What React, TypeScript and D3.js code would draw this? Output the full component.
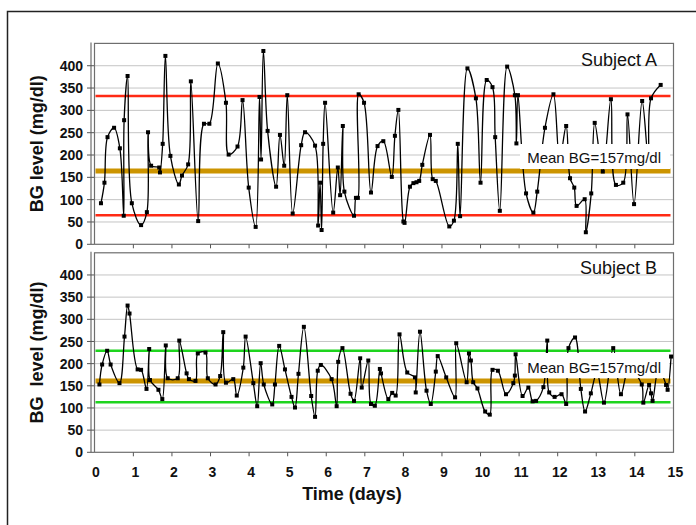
import React, { useEffect, useRef } from "react";
import * as d3 from "d3";

// Subject A readings (time in days, BG in mg/dl)
const daysA = [0.16, 0.25, 0.33, 0.5, 0.65, 0.75, 0.76, 0.85, 0.96, 1.2, 1.35, 1.38, 1.46, 1.67, 1.69, 1.76, 1.83, 1.96, 2.18, 2.26, 2.42, 2.49, 2.68, 2.83, 2.97, 3.19, 3.4, 3.47, 3.7, 3.83, 3.99, 4.17, 4.27, 4.31, 4.37, 4.48, 4.7, 4.8, 4.91, 4.99, 5.13, 5.35, 5.45, 5.71, 5.79, 5.84, 5.88, 5.92, 5.97, 6.18, 6.3, 6.36, 6.43, 6.47, 6.72, 6.77, 6.82, 6.84, 6.98, 7.16, 7.33, 7.48, 7.7, 7.78, 7.87, 8.0, 8.03, 8.17, 8.26, 8.34, 8.41, 8.49, 8.69, 8.76, 8.84, 9.19, 9.31, 9.41, 9.47, 9.66, 9.88, 10.0, 10.16, 10.31, 10.38, 10.5, 10.69, 10.89, 10.93, 10.97, 11.18, 11.37, 11.47, 11.67, 11.89, 12.05, 12.22, 12.32, 12.43, 12.49, 12.7, 12.73, 12.87, 12.96, 13.17, 13.38, 13.51, 13.7, 13.81, 13.98, 14.19, 14.35, 14.42, 14.67];
const bgA = [92, 138, 240, 261, 215, 64, 278, 377, 92, 43, 72, 251, 176, 172, 161, 225, 422, 198, 134, 154, 179, 365, 52, 270, 270, 405, 317, 201, 219, 323, 127, 39, 330, 190, 433, 254, 129, 245, 176, 334, 69, 222, 251, 221, 42, 138, 32, 225, 317, 71, 172, 110, 265, 118, 64, 104, 104, 336, 317, 116, 220, 231, 151, 243, 301, 51, 48, 129, 137, 139, 142, 178, 245, 146, 142, 40, 53, 225, 63, 394, 327, 138, 368, 352, 240, 75, 398, 334, 226, 334, 114, 71, 118, 261, 336, 190, 265, 148, 127, 86, 101, 27, 114, 272, 163, 325, 133, 138, 291, 90, 321, 190, 327, 357];

// Subject B readings
const daysB = [0.12, 0.19, 0.32, 0.41, 0.64, 0.77, 0.85, 0.9, 1.11, 1.2, 1.34, 1.41, 1.43, 1.65, 1.75, 1.84, 1.89, 2.15, 2.19, 2.38, 2.44, 2.61, 2.67, 2.87, 2.93, 3.13, 3.25, 3.33, 3.4, 3.59, 3.68, 3.85, 3.91, 4.11, 4.21, 4.3, 4.38, 4.6, 4.67, 4.78, 4.93, 5.1, 5.19, 5.28, 5.42, 5.61, 5.71, 5.78, 5.86, 6.14, 6.27, 6.31, 6.42, 6.63, 6.72, 6.88, 6.92, 7.09, 7.16, 7.26, 7.39, 7.42, 7.61, 7.71, 7.8, 7.9, 8.1, 8.3, 8.32, 8.43, 8.6, 8.71, 8.84, 8.89, 9.11, 9.34, 9.37, 9.64, 9.7, 9.75, 9.81, 9.92, 10.12, 10.24, 10.31, 10.45, 10.66, 10.85, 10.89, 10.91, 11.09, 11.24, 11.35, 11.44, 11.63, 11.73, 11.78, 11.92, 12.1, 12.22, 12.28, 12.45, 12.6, 12.71, 12.86, 13.02, 13.2, 13.44, 13.64, 13.85, 14.18, 14.22, 14.37, 14.42, 14.46, 14.62, 14.81, 14.85, 14.94];
const bgB = [153, 198, 229, 198, 156, 261, 331, 313, 187, 186, 143, 233, 163, 141, 120, 241, 167, 167, 252, 178, 165, 161, 223, 225, 167, 153, 172, 271, 157, 165, 128, 191, 261, 156, 104, 201, 153, 108, 153, 240, 187, 125, 101, 177, 283, 127, 80, 184, 197, 165, 104, 204, 235, 132, 116, 212, 146, 207, 109, 105, 188, 178, 120, 134, 128, 266, 180, 169, 135, 272, 139, 109, 182, 217, 169, 124, 246, 158, 223, 207, 158, 144, 92, 85, 186, 184, 131, 156, 173, 221, 127, 146, 115, 116, 147, 252, 135, 125, 131, 109, 235, 259, 143, 92, 133, 180, 112, 235, 131, 190, 153, 112, 152, 133, 116, 190, 152, 141, 216];

const limitsA = [65, 332];
const limitsB = [113, 229];
const meanLineA = 164;
const meanLineB = 161;
const meanLabel = "Mean BG=157mg/dl";
const yTicks = [0, 50, 100, 150, 200, 250, 300, 350, 400];
const xTicks = d3.range(0, 16);

function App() {
    const svgRef = useRef(null);

    useEffect(() => {
        const svg = d3.select(svgRef.current);
        svg.selectAll("*").remove();

        const x = d3.scaleLinear().domain([0, 15]).range([94.8, 673.4]);
        const left = 94.5;
        const right = 673.5;

        // outer frame (cropped on the right and bottom)
        svg.append("path")
            .attr("d", "M7.5,530 L7.5,11.5 L700,11.5")
            .attr("fill", "none")
            .attr("stroke", "#222")
            .attr("stroke-width", 1.5);

        const panels = [
            { days: daysA, bg: bgA, top: 43.4, bottom: 244.3, limits: limitsA, limitColor: "#ff2a14", mean: meanLineA, title: "Subject A", titleY: 66, label: "BG level (mg/dl)", box: [520, 144, 150, 25], textY: 163, showX: false },
            { days: daysB, bg: bgB, top: 252.8, bottom: 452.3, limits: limitsB, limitColor: "#1ed41e", mean: meanLineB, title: "Subject B", titleY: 274, label: "BG  level (mg/dl)", box: [523, 353, 146, 25], textY: 373, showX: true },
        ];

        panels.forEach((p) => {
            const y = d3.scaleLinear().domain([0, 450]).range([p.bottom, p.top]);
            const g = svg.append("g");

            // dotted gridlines
            g.selectAll(".grid")
                .data(yTicks.filter((t) => t > 0))
                .join("line")
                .attr("x1", left)
                .attr("x2", right)
                .attr("y1", (d) => y(d))
                .attr("y2", (d) => y(d))
                .attr("stroke", "#8a8a8a")
                .attr("stroke-width", 1)
                .attr("stroke-dasharray", "1,1");

            // frame + y axis line
            g.append("rect")
                .attr("x", left)
                .attr("y", p.top)
                .attr("width", right - left)
                .attr("height", p.bottom - p.top)
                .attr("fill", "none")
                .attr("stroke", "#6e6e6e")
                .attr("stroke-width", 1.2);
            g.append("line")
                .attr("x1", 91)
                .attr("x2", 91)
                .attr("y1", p.top - 1)
                .attr("y2", p.bottom)
                .attr("stroke", "#6e6e6e")
                .attr("stroke-width", 1.2);

            // y ticks and labels
            g.selectAll(".ytick")
                .data(yTicks)
                .join("line")
                .attr("x1", 87)
                .attr("x2", 94)
                .attr("y1", (d) => y(d))
                .attr("y2", (d) => y(d))
                .attr("stroke", "#555");
            g.selectAll(".ylab")
                .data(yTicks)
                .join("text")
                .attr("x", 83)
                .attr("y", (d) => y(d))
                .attr("dy", "0.36em")
                .attr("text-anchor", "end")
                .attr("font-family", "Liberation Sans, Arial, sans-serif")
                .attr("font-weight", "bold")
                .attr("font-size", 14)
                .attr("fill", "#111")
                .text((d) => d);

            // x ticks
            g.selectAll(".xtick")
                .data(xTicks.slice(1, 15))
                .join("line")
                .attr("x1", (d) => x(d))
                .attr("x2", (d) => x(d))
                .attr("y1", p.bottom)
                .attr("y2", p.bottom + 4)
                .attr("stroke", "#555");

            // y axis title
            g.append("text")
                .attr("transform", `translate(43,${(p.top + p.bottom) / 2}) rotate(-90)`)
                .attr("text-anchor", "middle")
                .attr("font-family", "Liberation Sans, Arial, sans-serif")
                .attr("font-weight", "bold")
                .attr("font-size", 18)
                .attr("fill", "#111")
                .attr("xml:space", "preserve")
                .style("white-space", "pre")
                .text(p.label);

            // limit lines and mean line
            g.selectAll(".limit")
                .data(p.limits)
                .join("line")
                .attr("x1", left + 1)
                .attr("x2", right - 3)
                .attr("y1", (d) => y(d))
                .attr("y2", (d) => y(d))
                .attr("stroke", p.limitColor)
                .attr("stroke-width", 2.5);
            g.append("line")
                .attr("x1", left + 1)
                .attr("x2", right - 3)
                .attr("y1", y(p.mean))
                .attr("y2", y(p.mean))
                .attr("stroke", "#cc9400")
                .attr("stroke-width", 5);

            // glucose trace
            const pts = p.days.map((d, i) => [d, p.bg[i]]);
            const line = d3
                .line()
                .x((d) => x(d[0]))
                .y((d) => y(d[1]))
                .curve(d3.curveCatmullRom.alpha(0.5));
            g.append("path")
                .attr("d", line(pts))
                .attr("fill", "none")
                .attr("stroke", "#000")
                .attr("stroke-width", 1.3);
            g.selectAll(".pt")
                .data(pts)
                .join("rect")
                .attr("x", (d) => x(d[0]) - 2)
                .attr("y", (d) => y(d[1]) - 2)
                .attr("width", 4)
                .attr("height", 4)
                .attr("fill", "#000");

            // mean label with white box
            g.append("rect")
                .attr("x", p.box[0])
                .attr("y", p.box[1])
                .attr("width", p.box[2])
                .attr("height", p.box[3])
                .attr("fill", "#fff");
            g.append("text")
                .attr("x", 661)
                .attr("y", p.textY)
                .attr("text-anchor", "end")
                .attr("font-family", "Liberation Sans, Arial, sans-serif")
                .attr("font-size", 15)
                .attr("fill", "#111")
                .text(meanLabel);

            g.append("text")
                .attr("x", 657)
                .attr("y", p.titleY)
                .attr("text-anchor", "end")
                .attr("font-family", "Liberation Sans, Arial, sans-serif")
                .attr("font-size", 18)
                .attr("fill", "#111")
                .text(p.title);

            if (p.showX) {
                g.selectAll(".xlab")
                    .data(xTicks)
                    .join("text")
                    .attr("x", (d) => x(d) + (d === 0 ? 1 : 2))
                    .attr("y", 477)
                    .attr("text-anchor", "middle")
                    .attr("font-family", "Liberation Sans, Arial, sans-serif")
                    .attr("font-weight", "bold")
                    .attr("font-size", 14)
                    .attr("fill", "#111")
                    .text((d) => d);
                g.append("text")
                    .attr("x", 352)
                    .attr("y", 500)
                    .attr("text-anchor", "middle")
                    .attr("font-family", "Liberation Sans, Arial, sans-serif")
                    .attr("font-weight", "bold")
                    .attr("font-size", 18)
                    .attr("fill", "#111")
                    .text("Time (days)");
            }
        });
    }, []);

    return (
        <svg
            ref={svgRef}
            width={696}
            height={525}
            style={{ position: "absolute", left: 0, top: 0, background: "#fff" }}
        ></svg>
    );
}

export default App;
